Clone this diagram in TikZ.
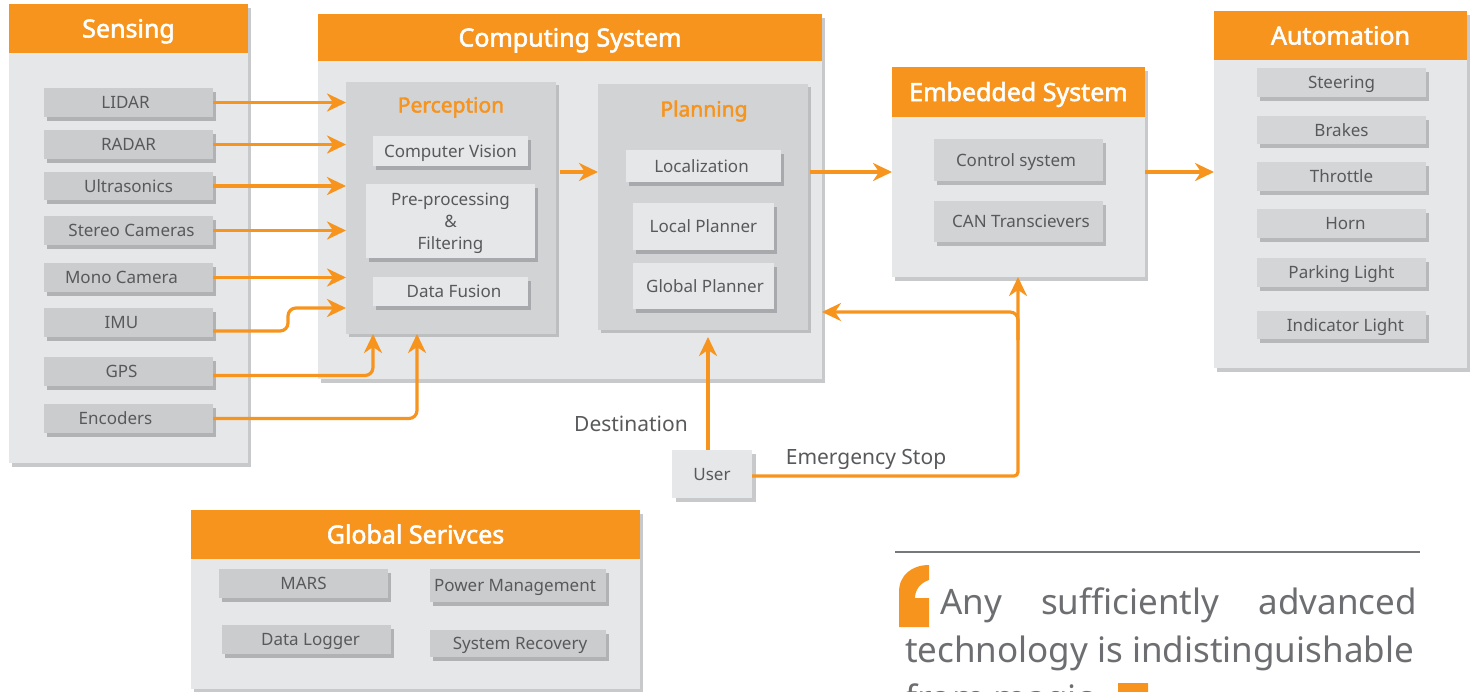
\documentclass[tikz,border=0pt]{standalone}
\usepackage{fontspec}
\setmainfont{Noto Sans}[BoldFont={Noto Sans}, BoldFeatures={FakeBold=2.2}]
\usetikzlibrary{shadows,arrows.meta,calc}
\definecolor{org}{HTML}{F7941E}
\definecolor{pnl}{HTML}{E6E7E8}
\definecolor{pnlsh}{HTML}{C8C9CB}
\definecolor{subg}{HTML}{D1D3D4}
\definecolor{subsh}{HTML}{BDBEC0}
\definecolor{itm}{HTML}{CBCCCE}
\definecolor{itmsh}{HTML}{B1B2B4}
\definecolor{litsh}{HTML}{A7A9AC}
\definecolor{esh}{HTML}{B7B8BA}
\definecolor{aitm}{HTML}{D4D5D7}
\definecolor{txt}{HTML}{58595B}
\definecolor{qtxt}{HTML}{6D6E71}
\definecolor{rulegray}{HTML}{77787B}
\newcommand\lblfont{\fontsize{17}{22}\selectfont}
\newcommand\hdrfont{\bfseries\fontsize{25}{30}\selectfont}
\newcommand\subfont{\bfseries\fontsize{21}{25}\selectfont}
\newcommand\midfont{\fontsize{21}{25}\selectfont}
\newcommand\qfont{\fontsize{35}{42}\selectfont}
\newcommand\drawbx[7]{\node[#1, anchor=north west, minimum width={#5-#3}, minimum height={#6-#4}] (#2) at (#3,#4) {#7};}
\newcommand\shft[1]{\hspace*{#1}}
\begin{document}
\begin{tikzpicture}[x=1pt,y=-1pt,
  base/.style={inner sep=0pt, outer sep=0pt, text height=12.2pt, text depth=0pt, text=txt, font=\lblfont, draw=none},
  panel/.style={base, fill=pnl, general shadow={fill=pnlsh, shadow xshift=3pt, shadow yshift=-4pt}},
  hdr/.style={base, fill=org, text=white, font=\hdrfont, text height=18pt},
  subp/.style={base, fill=subg, general shadow={fill=subsh, shadow xshift=3pt, shadow yshift=-3pt}},
  sitem/.style={base, fill=itm, general shadow={fill=itmsh, shadow xshift=3pt, shadow yshift=-4pt}},
  litem/.style={base, fill=pnl, general shadow={fill=litsh, shadow xshift=3pt, shadow yshift=-4pt}},
  eitem/.style={base, fill=subg, general shadow={fill=esh, shadow xshift=3pt, shadow yshift=-4pt}},
  aitem/.style={base, fill=aitm, general shadow={fill=esh, shadow xshift=3pt, shadow yshift=-4pt}},
  ubox/.style={base, fill=pnl, general shadow={fill=pnlsh, shadow xshift=4pt, shadow yshift=-4pt}},
  stitle/.style={base, font=\subfont, text=org, text height=15pt},
  arr/.style={draw=org, line width=3.2pt, -{Stealth[length=19pt,width=18pt,inset=6pt]}},
  qtext/.style={inner sep=0pt, outer sep=0pt, font=\qfont, text=qtxt},
  freelbl/.style={base, font=\midfont, text height=15pt}
]
\useasboundingbox (0,0) rectangle (1472,691);

% ---------------- Sensing ----------------
\drawbx{panel}{sensing}{9}{4}{248}{463}{}
\drawbx{hdr}{sensingH}{9}{4}{248}{53}{Sensing}
\drawbx{sitem}{lidar}{44}{88}{213}{117}{\shft{-6pt}LIDAR}
\drawbx{sitem}{radar}{44}{130}{213}{159}{RADAR}
\drawbx{sitem}{ultra}{44}{172}{213}{200}{Ultrasonics}
\drawbx{sitem}{stereo}{44}{216}{213}{245}{\shft{6pt}Stereo Cameras}
\drawbx{sitem}{mono}{44}{263}{213}{292}{\shft{-14pt}Mono Camera}
\drawbx{sitem}{imu}{44}{308}{213}{337}{\shft{-14pt}IMU}
\drawbx{sitem}{gps}{44}{357}{213}{386}{\shft{-14pt}GPS}
\drawbx{sitem}{enc}{44}{404}{213}{433}{\shft{-26pt}Encoders}

% ---------------- Computing System ----------------
\drawbx{panel}{comp}{318}{14}{822}{379}{}
\drawbx{hdr}{compH}{318}{14}{822}{61}{Computing System}
\drawbx{subp}{percep}{346}{82}{556}{334}{}
\node[stitle] (percepT) at (451,105) {Perception};
\drawbx{litem}{cv}{373}{136}{528}{166}{Computer Vision}
\drawbx{litem}{pre}{366}{184}{535}{258}{\begin{tabular}{@{}c@{}}Pre-processing\\\&\\Filtering\end{tabular}}
\drawbx{litem}{fusion}{373}{277}{528}{306}{\shft{7pt}Data Fusion}
\drawbx{subp}{plan}{598}{84}{808}{330}{}
\node[stitle] (planT) at (704,109) {Planning};
\drawbx{litem}{loc}{626}{150}{781}{182}{\shft{-4pt}Localization}
\drawbx{litem}{lplan}{633}{203}{774}{250}{Local Planner}
\drawbx{litem}{gplan}{633}{263}{774}{309}{\shft{3pt}Global Planner}

% ---------------- Embedded System ----------------
\drawbx{panel}{emb}{892}{67}{1145}{277}{}
\drawbx{hdr}{embH}{892}{67}{1145}{117}{Embedded System}
\drawbx{eitem}{ctrl}{934}{139}{1103}{181}{\shft{-5pt}Control system}
\drawbx{eitem}{can}{934}{201}{1103}{242}{\shft{5pt}CAN Transcievers}

% ---------------- Automation ----------------
\drawbx{panel}{auto}{1214}{11}{1467}{368}{}
\drawbx{hdr}{autoH}{1214}{11}{1467}{60}{Automation}
\drawbx{aitem}{steer}{1257}{68}{1426}{97}{Steering}
\drawbx{aitem}{brake}{1257}{116}{1426}{144}{Brakes}
\drawbx{aitem}{thr}{1257}{162}{1426}{191}{Throttle}
\drawbx{aitem}{horn}{1257}{209}{1426}{238}{\shft{8pt}Horn}
\drawbx{aitem}{park}{1257}{258}{1426}{287}{Parking Light}
\drawbx{aitem}{ind}{1257}{311}{1426}{339}{\shft{8pt}Indicator Light}

% ---------------- Global Services ----------------
\drawbx{panel}{glob}{191}{510}{640}{689}{}
\drawbx{hdr}{globH}{191}{510}{640}{559}{Global Serivces}
\drawbx{sitem}{mars}{219}{569}{388}{598}{MARS}
\drawbx{sitem}{power}{430}{569}{606}{602}{\shft{-6pt}Power Management}
\drawbx{sitem}{logger}{222}{625}{391}{654}{\shft{8pt}Data Logger}
\drawbx{sitem}{recov}{430}{630}{606}{657}{\shft{4pt}System Recovery}

% ---------------- User ----------------
\drawbx{ubox}{user}{672}{450}{752}{498}{User}
\node[freelbl] (dest) at (631,424) {Destination};
\node[freelbl] (estop) at (866,457) {Emergency Stop};

% ---------------- Connectors ----------------
\draw[arr] (lidar.east) -- (lidar.east -| percep.west);
\draw[arr] (radar.east) -- (radar.east -| percep.west);
\draw[arr] (ultra.east) -- (ultra.east -| percep.west);
\draw[arr] (stereo.east) -- (stereo.east -| percep.west);
\draw[arr] (mono.east) -- (mono.east -| percep.west);
\draw[arr, rounded corners=8pt] ([yshift=-8.5pt]imu.east) -| (288,308) -- (percep.west |- 0,308);
\draw[arr, rounded corners=8pt] ([yshift=-4pt]gps.east) -| (percep.south -| 373,0);
\draw[arr, rounded corners=8pt] (enc.east) -| (percep.south -| 417,0);
\draw[arr] ([xshift=4pt]percep.east |- 0,172) -- (plan.west |- 0,172);
\draw[arr] ([xshift=2pt]plan.east |- 0,172) -- (emb.west |- 0,172);
\draw[arr] (emb.east |- 0,172) -- (auto.west |- 0,172);
\draw[arr] ([xshift=-4pt]user.north) -- (708,337);
\draw[arr, rounded corners=4pt] (user.east |- 0,476) -| (emb.south -| 1018,0);
\draw[arr, rounded corners=8pt] (1018,340) |- (comp.east |- 0,312);

% ---------------- Quote ----------------
\coordinate (ruleA) at (895,552);
\coordinate (ruleB) at (1420,552);
\draw[draw=rulegray, line width=2.5pt] (ruleA) -- (ruleB);
\fill[org] (929,565) -- (929,580) .. controls (920,583) and (915,590) .. (915,598) -- (929,598) -- (929,627) -- (899,627) -- (899,592) .. controls (899,575) and (912,565) .. (929,565) -- cycle;
\node[qtext, anchor=base west] (q1) at (940,614) {\makebox[477pt][s]{Any sufficiently advanced}};
\node[qtext, anchor=base west] (q2) at (905,662) {technology is indistinguishable};
\node[qtext, anchor=base west] (q3) at (905,710) {from magic};
\fill[org] (1118,745) -- (1118,730) .. controls (1127,727) and (1132,720) .. (1132,712) -- (1118,712) -- (1118,683) -- (1148,683) -- (1148,718) .. controls (1148,735) and (1135,745) .. (1118,745) -- cycle;
\end{tikzpicture}
\end{document}
